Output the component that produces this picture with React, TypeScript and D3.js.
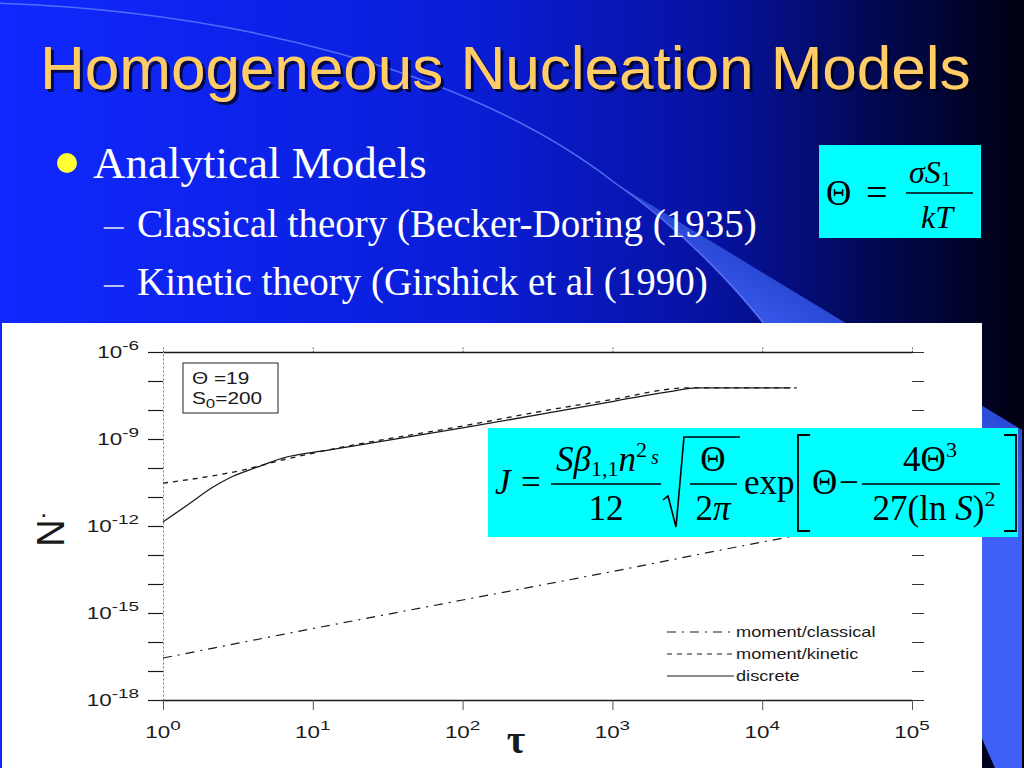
import React, { useEffect, useRef } from "react";
import * as d3 from "d3";

// axis ticks
const xTickValues = [1, 10, 100, 1000, 10000, 100000];
const xTickExponents = ["0", "1", "2", "3", "4", "5"];
const yLabelValues = [1e-6, 1e-9, 1e-12, 1e-15, 1e-18];
const yLabelExponents = ["-6", "-9", "-12", "-15", "-18"];
const yDecadeTicks = [
  1e-6, 1e-7, 1e-8, 1e-9, 1e-10, 1e-11, 1e-12, 1e-13, 1e-14, 1e-15, 1e-16,
  1e-17, 1e-18,
];

// series (tau, N-dot)
const discreteTau = [1, 1.45, 2.16, 2.93, 4.24, 6.3, 13, 100, 1000, 2600, 3600, 15500];
const discreteN = [
  1.38e-12, 5.2e-12, 2.2e-11, 5.2e-11, 1.07e-10, 2.2e-10, 4.2e-10, 2.4e-9,
  1.96e-8, 4.6e-8, 5.8e-8, 5.8e-8,
];
const kineticTau = [1, 3.4, 6.3, 13, 100, 447, 1000, 2300, 3000, 17000];
const kineticN = [
  3.0e-11, 8.5e-11, 1.9e-10, 4.3e-10, 2.8e-9, 1.17e-8, 2.3e-8, 5.1e-8, 5.8e-8,
  5.8e-8,
];
const classicalTau = [1, 10, 100, 1000, 10000, 20000];
const classicalN = [2.8e-17, 2.9e-16, 2.8e-15, 2.7e-14, 2.8e-13, 5.5e-13];

const legendLabels = ["moment/classical", "moment/kinetic", "discrete"];
const legendDashes = ["9,6,2,6", "5,5", "none"];

const sans = "'Liberation Sans', Arial, Helvetica, sans-serif";
const serif = "'Liberation Serif', 'Times New Roman', serif";

export default function App() {
  const chartRef = useRef<SVGGElement | null>(null);

  useEffect(() => {
    const g = d3.select(chartRef.current);
    g.selectAll("*").remove();

    const x = d3.scaleLog().domain([1, 1e5]).range([163, 912]);
    const y = d3.scaleLog().domain([1e-18, 1e-6]).range([700, 352]);
    const ink = "#1a1a1a";

    // left axis (dotted spine, outward ticks)
    const left = g
      .append("g")
      .attr("transform", `translate(${x(1)},0)`)
      .call(
        d3
          .axisLeft(y)
          .tickValues(yDecadeTicks)
          .tickSize(15)
          .tickSizeOuter(0)
          .tickFormat(() => "")
      );
    left.select(".domain").attr("stroke", "#777").attr("stroke-dasharray", "2,2");
    left.selectAll(".tick line").attr("stroke", ink).attr("stroke-width", 1.2);

    // right ticks, no spine
    const right = g
      .append("g")
      .attr("transform", `translate(${x(1e5)},0)`)
      .call(
        d3
          .axisRight(y)
          .tickValues(yDecadeTicks)
          .tickSize(12)
          .tickSizeOuter(0)
          .tickFormat(() => "")
      );
    right.select(".domain").remove();
    right.selectAll(".tick line").attr("stroke", "#333").attr("stroke-width", 1);

    // top axis
    const top = g
      .append("g")
      .attr("transform", `translate(0,${y(1e-6)})`)
      .call(
        d3
          .axisTop(x)
          .tickValues(xTickValues)
          .tickSize(5)
          .tickSizeOuter(0)
          .tickFormat(() => "")
      );
    top.select(".domain").attr("stroke", ink).attr("stroke-width", 1.3);
    top.selectAll(".tick line").attr("stroke", "#555").attr("stroke-dasharray", "1.5,1.5");

    // bottom axis
    const bottom = g
      .append("g")
      .attr("transform", `translate(0,${y(1e-18)})`)
      .call(
        d3
          .axisBottom(x)
          .tickValues(xTickValues)
          .tickSize(10)
          .tickSizeOuter(0)
          .tickFormat(() => "")
      );
    bottom.select(".domain").attr("stroke", ink).attr("stroke-width", 1.3);
    bottom.selectAll(".tick line").attr("stroke", "#555").attr("stroke-width", 1);

    // tick labels 10^n (the scanned figure is stretched sideways)
    xTickValues.forEach((v, i) => {
      const t = g
        .append("text")
        .attr("transform", `translate(${x(v)},738) scale(1.4,1)`)
        .attr("text-anchor", "middle")
        .attr("font-family", sans)
        .attr("font-size", 16)
        .attr("fill", ink);
      t.append("tspan").text("10");
      t.append("tspan").attr("dy", -8).attr("font-size", 13.5).text(xTickExponents[i]);
    });
    yLabelValues.forEach((v, i) => {
      const t = g
        .append("text")
        .attr("transform", `translate(139,${y(v) + 6}) scale(1.4,1)`)
        .attr("text-anchor", "end")
        .attr("font-family", sans)
        .attr("font-size", 16)
        .attr("fill", ink);
      t.append("tspan").text("10");
      t.append("tspan").attr("dy", -8).attr("font-size", 13.5).text(yLabelExponents[i]);
    });

    // curves
    const series = [
      { tau: classicalTau, n: classicalN, dash: legendDashes[0], w: 1.2 },
      { tau: kineticTau, n: kineticN, dash: legendDashes[1], w: 1.3 },
      { tau: discreteTau, n: discreteN, dash: legendDashes[2], w: 1.3 },
    ];
    series.forEach((s) => {
      const l = d3
        .line<number>()
        .x((_, i) => x(s.tau[i]))
        .y((d) => y(d))
        .curve(d3.curveMonotoneX);
      g.append("path")
        .attr("d", l(s.n))
        .attr("fill", "none")
        .attr("stroke", ink)
        .attr("stroke-width", s.w)
        .attr("stroke-dasharray", s.dash);
    });

    // legend
    legendLabels.forEach((label, i) => {
      const ly = 632 + i * 22;
      g.append("line")
        .attr("x1", 667)
        .attr("x2", 734)
        .attr("y1", ly)
        .attr("y2", ly)
        .attr("stroke", ink)
        .attr("stroke-width", 1.2)
        .attr("stroke-dasharray", legendDashes[i]);
      g.append("text")
        .attr("transform", `translate(736,${ly + 5}) scale(1.3,1)`)
        .attr("font-family", sans)
        .attr("font-size", 14)
        .attr("fill", ink)
        .text(label);
    });

    // parameter box
    g.append("rect")
      .attr("x", 183)
      .attr("y", 363)
      .attr("width", 95)
      .attr("height", 50)
      .attr("fill", "none")
      .attr("stroke", "#222")
      .attr("stroke-width", 1);
    g.append("text")
      .attr("transform", "translate(192,384) scale(1.3,1)")
      .attr("font-family", sans)
      .attr("font-size", 16)
      .attr("fill", ink)
      .text("Θ =19");
    const s0 = g
      .append("text")
      .attr("transform", "translate(192,404) scale(1.3,1)")
      .attr("font-family", sans)
      .attr("font-size", 16)
      .attr("fill", ink);
    s0.append("tspan").text("S");
    s0.append("tspan").attr("dy", 4).attr("font-size", 13).text("0");
    s0.append("tspan").attr("dy", -4).text("=200");

    // axis titles
    const yt = g
      .append("text")
      .attr("transform", "translate(64,528) rotate(-90)")
      .attr("text-anchor", "middle")
      .attr("font-family", sans)
      .attr("font-size", 38)
      .attr("fill", ink);
    yt.append("tspan").text("N");
    yt.append("tspan").attr("font-size", 30).text("˙");
    g.append("text")
      .attr("x", 516)
      .attr("y", 753)
      .attr("text-anchor", "middle")
      .attr("font-family", serif)
      .attr("font-weight", "bold")
      .attr("font-size", 40)
      .attr("fill", ink)
      .text("τ");
  }, []);

  return (
    <svg
      width={1024}
      height={768}
      style={{ position: "absolute", left: 0, top: 0, display: "block" }}
    >
      <defs>
        <linearGradient id="bg" x1="0" y1="0" x2="1" y2="0">
          <stop offset="0" stopColor="#1028ff" />
          <stop offset="0.45" stopColor="#0a1ed8" />
          <stop offset="0.7" stopColor="#0612a0" />
          <stop offset="0.86" stopColor="#020850" />
          <stop offset="1" stopColor="#000010" />
        </linearGradient>
        <linearGradient
          id="band"
          gradientUnits="userSpaceOnUse"
          x1={800}
          y1={375}
          x2={846}
          y2={298}
        >
          <stop offset="0" stopColor="#3f60f6" />
          <stop offset="1" stopColor="#2442cc" />
        </linearGradient>
        <filter id="shadow" x="-5%" y="-20%" width="110%" height="150%">
          <feDropShadow dx={3} dy={3} stdDeviation={0.6} floodColor="#000018" floodOpacity={0.75} />
        </filter>
      </defs>

      {/* slide background */}
      <rect x={0} y={0} width={1024} height={768} fill="url(#bg)" />
      <path
        d="M615,183 L1022,430 L1022,768 L995,768 C940,640 860,470 800,375 C760,310 690,235 615,183 Z"
        fill="url(#band)"
      />
      <path
        d="M-10,3 C230,10 470,70 615,183 C690,235 760,310 800,375"
        fill="none"
        stroke="#6a86ff"
        strokeWidth={1.5}
        opacity={0.75}
      />

      {/* title */}
      <text
        x={40}
        y={89}
        fontFamily={sans}
        fontSize={62}
        fill="#ffcc66"
        filter="url(#shadow)"
      >
        Homogeneous Nucleation Models
      </text>

      {/* bullets */}
      <circle cx={67} cy={163} r={10} fill="#ffff33" />
      <text x={93} y={178} fontFamily={serif} fontSize={45} fill="#ffffff">
        Analytical Models
      </text>
      <text x={104} y={237} fontFamily={serif} fontSize={39} fill="#b8c0ec">
        –
      </text>
      <text x={137} y={237} fontFamily={serif} fontSize={39} fill="#ffffff">
        Classical theory (Becker-Doring (1935)
      </text>
      <text x={104} y={295} fontFamily={serif} fontSize={39} fill="#b8c0ec">
        –
      </text>
      <text x={137} y={295} fontFamily={serif} fontSize={39} fill="#ffffff">
        Kinetic theory (Girshick et al (1990)
      </text>

      {/* Theta definition */}
      <rect x={819} y={145} width={162} height={93} fill="#00ffff" />
      <text x={826} y={205} fontFamily={serif} fontSize={35} fill="#000">
        Θ
      </text>
      <text x={866} y={205} fontFamily={serif} fontSize={38} fill="#000">
        =
      </text>
      <line x1={906} x2={973} y1={193} y2={193} stroke="#000" strokeWidth={1.5} />
      <text x={909} y={183} fontFamily={serif} fontSize={32} fill="#000">
        <tspan fontStyle="italic">σS</tspan>
        <tspan fontSize={21} dy={3}>
          1
        </tspan>
      </text>
      <text
        x={937}
        y={228}
        textAnchor="middle"
        fontFamily={serif}
        fontStyle="italic"
        fontSize={32}
        fill="#000"
      >
        kT
      </text>

      {/* scanned figure */}
      <rect x={2} y={323} width={980} height={445} fill="#ffffff" />
      <g ref={chartRef} />

      {/* nucleation rate formula */}
      <rect x={488} y={428} width={530} height={109} fill="#00ffff" />
      <g fontFamily={serif} fontSize={35} fill="#000">
        <text x={495} y={494} fontStyle="italic">
          J
        </text>
        <text x={521} y={494}>
          =
        </text>
        <line x1={551} x2={661} y1={484} y2={484} stroke="#000" strokeWidth={1.5} />
        <text x={556} y={471}>
          <tspan fontStyle="italic">Sβ</tspan>
          <tspan fontSize={22} dy={5}>
            1,1
          </tspan>
          <tspan fontStyle="italic" dy={-5}>
            n
          </tspan>
          <tspan fontSize={22} dy={-14}>
            2
          </tspan>
          <tspan fontSize={20} fontStyle="italic" dx={4} dy={7}>
            s
          </tspan>
        </text>
        <text x={606} y={520} textAnchor="middle">
          12
        </text>
        <path
          d="M663,500 L668,496 L676,527 L684,437 L740,437"
          fill="none"
          stroke="#000"
          strokeWidth={1.6}
        />
        <line x1={690} x2={737} y1={484} y2={484} stroke="#000" strokeWidth={1.5} />
        <text x={713} y={471} textAnchor="middle">
          Θ
        </text>
        <text x={713} y={520} textAnchor="middle">
          2<tspan fontStyle="italic">π</tspan>
        </text>
        <text x={744} y={494}>
          exp
        </text>
        <path d="M810,435 H798 V531 H810" fill="none" stroke="#000" strokeWidth={1.8} />
        <text x={812} y={494}>
          Θ
        </text>
        <text x={839} y={494}>
          −
        </text>
        <line x1={862} x2={1000} y1={484} y2={484} stroke="#000" strokeWidth={1.5} />
        <text x={930} y={471} textAnchor="middle">
          4Θ
          <tspan fontSize={22} dy={-14}>
            3
          </tspan>
        </text>
        <text x={934} y={520} textAnchor="middle">
          27(ln <tspan fontStyle="italic">S</tspan>)
          <tspan fontSize={22} dy={-14}>
            2
          </tspan>
        </text>
        <path d="M1004,435 H1016 V531 H1004" fill="none" stroke="#000" strokeWidth={1.8} />
      </g>
    </svg>
  );
}
